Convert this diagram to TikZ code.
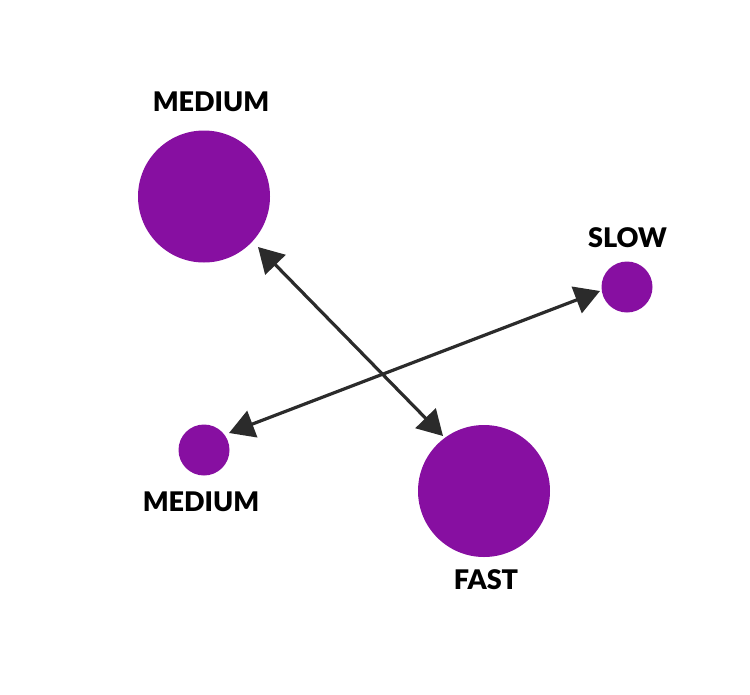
\documentclass[tikz,border=0pt]{standalone}
\usepackage{fontspec}
\setmainfont{Lato}[UprightFont=* Black]
\usetikzlibrary{arrows.meta}
\definecolor{dot}{HTML}{870FA1}
\definecolor{arr}{HTML}{2B2B2B}
\tikzset{
  dotnode/.style={circle, fill=dot, draw=none, inner sep=0, minimum size=#1},
  lab/.style={inner sep=0, font=\fontsize{27}{27}\selectfont, text=black},
  conn/.style={draw=arr, line width=3.2pt, {Triangle[length=25pt,width=28pt]}-{Triangle[length=25pt,width=28pt]}}
}
\begin{document}
\begin{tikzpicture}[x=1pt,y=-1pt]
\useasboundingbox (0,0) rectangle (750,694);
\node[dotnode=132pt] (c1) at (204,196.5) {};
\node[dotnode=51pt] (c2) at (627,287) {};
\node[dotnode=51pt] (c3) at (204,450) {};
\node[dotnode=132pt] (c4) at (484,491) {};
\node[lab] (l1) at (211,102) {MEDIUM};
\node[lab] (l2) at (627.5,237.5) {SLOW};
\node[lab] (l3) at (201,502) {MEDIUM};
\node[lab] (l4) at (486,580) {FAST};
\coordinate (a1) at (258,247);
\coordinate (a2) at (443,436);
\coordinate (b1) at (229,433);
\coordinate (b2) at (600,291);
\draw[conn] (a1) -- (a2);
\draw[conn] (b1) -- (b2);
\end{tikzpicture}
\end{document}
